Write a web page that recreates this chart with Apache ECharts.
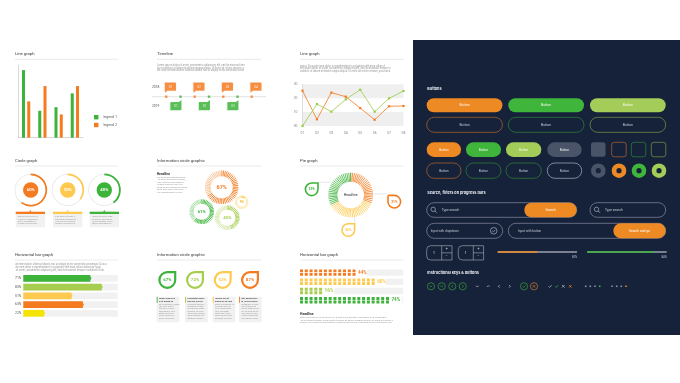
<!DOCTYPE html>
<html><head><meta charset="utf-8">
<script src="https://cdn.jsdelivr.net/npm/echarts@6/dist/echarts.min.js"></script>
<style>html,body{margin:0;padding:0;background:#fff}#c{width:680px;height:383px}</style>
</head><body><div id="c"></div>
<script>
// ---------- DATA ----------
const barCategories = ['A', 'B', 'C', 'D'];
const barLegend1 = [93, 37, 42, 61];
const barLegend2 = [50, 71, 32, 71];
const timelineYears = ['2018', '2019'];
const timeline2018 = ['01', '02', '03', '04'];
const timeline2019 = ['01', '02', '03'];
const lineCategories = ['01', '02', '03', '04', '05', '06', '07', '08'];
const lineYLabels = ['00', '10', '20', '30'];
const lineOrange = [25.4, 4.8, 24.0, 21.1, 12.9, 4.5, 14.2, 14.4];
const lineGreen = [0, 15.8, 10.3, 19.2, 26.1, 10.3, 19.9, 25.2];
const circleValues = [60, 35, 40];
const infoValues = [67, 61, 45, 9];
const pieValues = [31, 36, 33]; // orange, yellow, green
const hbarValues = [71, 83, 51, 63, 22];
const dropValues = [67, 72, 52, 87];
const pictValues = [44, 60, 16, 74];
const progressValues = [50, 84];

// ---------- STYLE ----------
const OR = '#f47b20', GR = '#3db33b', LG = '#a6cd4e', YE = '#fdc94f', BY = '#f5e400';
const PANEL = '#16213a', BOR = '#ee8a24', BGR = '#3fb53c', BLG = '#a4cc58', BGY = '#4a5468';
const FONT = 'Roboto, "Noto Sans", sans-serif';
const LOREM = 'Lorem ipsum dolor sit amet, consectetur adipiscing elit, sed do eiusmod tempor incididunt ut labore et dolore magna aliqua. Ut enim ad minim veniam, quis nostrud exercitation ullamco laboris nisi ut aliquip ex ea commodo consequat. Duis aute irure dolor in reprehenderit in voluptate velit esse cillum dolore eu fugiat nulla pariatur. Excepteur sint occaecat cupidatat non proident, sunt in culpa qui officia deserunt mollit anim id est laborum.';

const G = [];
function T(x, y, text, o) {
  o = o || {};
  const a = o.a || 'left', v = o.v || 'middle';
  G.push({type: 'text', x: x, y: y, z: o.z || 5, silent: true,
    style: {text: text, fill: o.c || '#444', font: (o.w || 'normal') + ' ' + (o.s || 4) + 'px ' + (o.f || FONT),
      textAlign: a, align: a, textVerticalAlign: v, verticalAlign: v}});
}
function R(x, y, w, h, o) {
  o = o || {};
  G.push({type: 'rect', z: o.z || 1, silent: true, shape: {x: x, y: y, width: w, height: h, r: o.r || 0},
    style: {fill: o.fill || 'none', stroke: o.stroke || 'none', lineWidth: o.lw || 0}});
}
function L(x1, y1, x2, y2, c, lw, z) {
  G.push({type: 'line', z: z || 2, silent: true, shape: {x1: x1, y1: y1, x2: x2, y2: y2}, style: {stroke: c, lineWidth: lw || 0.7}});
}
function C(cx, cy, r, o) {
  o = o || {};
  G.push({type: 'circle', z: o.z || 2, silent: true, shape: {cx: cx, cy: cy, r: r},
    style: {fill: o.fill || 'none', stroke: o.stroke || 'none', lineWidth: o.lw || 0}});
}
function PL(pts, c, lw, cx, cy) {
  G.push({type: 'polyline', z: 3, silent: true, shape: {points: pts.map(p => [p[0] + cx, p[1] + cy])},
    style: {stroke: c, lineWidth: lw || 0.6, fill: 'none'}});
}
function PG(pts, fill) {
  G.push({type: 'polygon', z: 2, silent: true, shape: {points: pts}, style: {fill: fill}});
}
let loremPos = 0;
function para(x, y, width, n, s, lh, c, w) {
  const per = Math.floor(width / (s * 0.5));
  for (let i = 0; i < n; i++) {
    let line = LOREM.substr(loremPos % 300, per);
    loremPos += per;
    T(x, y + i * lh, line, {s: s, c: c || '#9a9a9a', w: w});
  }
}
function drop(cx, cy, r, lw, color, tail, text, fs) {
  const rr = [r, r, r, r];
  if (tail === 'tr') rr[1] = 0; else rr[0] = 0;
  G.push({type: 'rect', z: 3, silent: true, shape: {x: cx - r, y: cy - r, width: 2 * r, height: 2 * r, r: rr},
    style: {fill: '#fff', stroke: color, lineWidth: lw}});
  T(cx, cy, text, {s: fs, c: color, w: 'bold', a: 'center', z: 4});
}

// ---------- LIGHT PANELS: titles ----------
const titles = [
  ['Line graph', 15, 54.3, 118], ['Timeline', 157, 54.3, 261], ['Line graph', 300, 54.3, 404],
  ['Circle graph', 15, 161, 118], ['Information circle graphic', 157, 161, 261], ['Pie graph', 300, 161, 404],
  ['Horizontal bar graph', 15, 255, 118], ['Information circle graphic', 157, 255, 261], ['Horizontal bar graph', 300, 255, 404]
];
titles.forEach(t => { T(t[1], t[2], t[0], {s: 4.2, c: '#3a3a3a'}); L(t[1], t[2] + 5, t[3], t[2] + 5, '#e4e4e4', 0.8); });

// paragraphs
para(157, 65, 98, 3, 2.6, 2.85);
para(300, 66, 102, 3, 2.6, 2.6);
para(15, 264.3, 103, 3, 2.6, 2.85);
T(156.7, 174.3, 'Headline', {s: 3.4, c: '#333', w: 'bold'});
para(156.7, 177.4, 32, 7, 2.4, 2.45);
T(300, 314.3, 'Headline', {s: 3.4, c: '#333', w: 'bold'});
para(300, 317.6, 103, 3, 2.5, 2.6);

// timeline year labels
T(152, 87.3, timelineYears[0], {s: 3.3, c: '#555'});
T(152, 106, timelineYears[1], {s: 3.3, c: '#555'});

// circle graph boxes
const circleColors = [OR, YE, GR];
const circleX = [30.7, 67.7, 104.3];
const boxX = [15.7, 53, 89.7];
boxX.forEach((x, i) => {
  R(x, 211.7, 29.3, 2.3, {fill: circleColors[i]});
  PG([[x + 14.65 - 1.3, 211.8], [x + 14.65 + 1.3, 211.8], [x + 14.65, 210]], circleColors[i]);
  R(x, 214, 29.3, 13.3, {fill: '#f1f1f1'});
  para(x + 2, 216.6, 24, 4, 2.2, 2.4, '#9a9a9a');
});

// info drops (bottom middle)
const dropColors = [GR, LG, YE, OR];
const dropX = [167.3, 195, 222.7, 250];
const dboxX = [156.7, 185, 212.7, 239];
dropX.forEach((x, i) => {
  drop(x, 280, 7.9, 2.2, dropColors[i], 'tr', dropValues[i] + '%', 4.4);
  R(dboxX[i], 296.7, 22.7, 25.6, {fill: '#f1f1f1'});
  R(dboxX[i], 296.7, 0.9, 6, {fill: dropColors[i], z: 2});
  para(dboxX[i] + 2.2, 298.8, 19, 2, 2.2, 2.4, '#444', 'bold');
  para(dboxX[i] + 2.2, 304, 19, 7, 2.2, 2.35, '#9a9a9a');
});

// pie graph callouts
const pieColors = [OR, YE, GR];
L(318.7, 182.2, 331, 182.2, '#dcdcdc', 0.7);
L(371.5, 193.9, 387.5, 193.9, '#dcdcdc', 0.7);
L(354.8, 215.5, 354.8, 223.5, '#dcdcdc', 0.7);
drop(311.7, 189.3, 6.3, 1.6, GR, 'tr', pieValues[2] + '%', 3.3);
drop(394.3, 201.7, 6.3, 1.6, OR, 'tl', pieValues[0] + '%', 3.3);
drop(348.3, 230, 6.3, 1.6, YE, 'tr', pieValues[1] + '%', 3.3);

// ---------- DARK PANEL ----------
R(413, 40, 267, 295, {fill: PANEL, z: 0});
const WT = '#e9ecf2', LT = '#c3c8d2';
T(427.3, 89.3, 'Buttons', {s: 3.8, c: WT, w: 'bold', f: 'Inter, Roboto, sans-serif'});
const bigX = [426.7, 508.3, 590], bigW = 75.7;
[BOR, BGR, BLG].forEach((c, i) => {
  R(bigX[i], 98.3, bigW, 14, {fill: c, r: 7});
  T(bigX[i] + bigW / 2, 105.3, 'Button', {s: 3.5, c: 'rgba(255,255,255,0.9)', a: 'center'});
  R(bigX[i], 117.3, bigW, 15, {stroke: ['#b7692d', '#2e8a37', '#7d9c45'][i], lw: 0.7, r: 7.5});
  T(bigX[i] + bigW / 2, 124.8, 'Button', {s: 3.5, c: LT, a: 'center'});
});
const smX = [426.7, 466, 506, 547.3], smW = [34.3, 35, 35.3, 34.4];
[BOR, BGR, BLG, BGY].forEach((c, i) => {
  R(smX[i], 142.3, smW[i], 14.7, {fill: c, r: 7.3});
  T(smX[i] + smW[i] / 2, 149.7, 'Button', {s: 3.2, c: 'rgba(255,255,255,0.9)', a: 'center'});
  R(smX[i], 163, smW[i], 15.3, {stroke: ['#b7692d', '#2e8a37', '#2e8a37', '#aeb4c0'][i], lw: 0.7, r: 7.6});
  T(smX[i] + smW[i] / 2, 170.7, 'Button', {s: 3.2, c: LT, a: 'center'});
});
const sqX = [591, 611.7, 631.3, 651.3];
R(sqX[0], 142.3, 14.5, 14.5, {fill: BGY, r: 2.5});
['#b7692d', '#2e8a37', '#7d9c45'].forEach((c, i) => R(sqX[i + 1], 142.3, 14.5, 14.5, {stroke: c, lw: 0.7, r: 2.5}));
const dnX = [598.3, 619, 639, 659];
[BGY, BOR, BGR, BLG].forEach((c, i) => { C(dnX[i], 170.7, 7.3, {fill: c}); C(dnX[i], 170.7, 2.6, {fill: PANEL, z: 3}); });

T(427.3, 193.3, 'Search, filters on progress bars', {s: 3.8, c: WT, w: 'bold', f: 'Inter, Roboto, sans-serif'});
function mag(cx, cy) { C(cx, cy, 2.2, {stroke: LT, lw: 0.6}); L(cx + 1.6, cy + 1.6, cx + 3.4, cy + 3.4, LT, 0.7, 3); }
R(426.7, 202.7, 150, 14.6, {stroke: '#9aa1b0', lw: 0.6, r: 7.3});
mag(433.2, 209.3);
T(441.7, 210, 'Type search', {s: 3.3, c: LT});
R(524.3, 202.7, 52.4, 14.6, {fill: BOR, r: 7.3, z: 2});
T(550.5, 210, 'Search', {s: 3.3, c: '#fff', a: 'center'});
R(590, 202.7, 75.7, 14.6, {stroke: '#9aa1b0', lw: 0.6, r: 7.3});
mag(596.5, 209.3);
T(605, 210, 'Type search', {s: 3.3, c: LT});
R(426.7, 223.3, 76, 15, {stroke: '#9aa1b0', lw: 0.6, r: 7.5});
T(430.7, 230.8, 'Input with dropdown', {s: 3.1, c: LT});
C(493.7, 230.8, 3.3, {stroke: LT, lw: 0.6});
PL([[-1.5, 0], [-0.4, 1.1], [1.5, -1]], LT, 0.6, 493.7, 230.8);
R(508.3, 223.3, 157.4, 15, {stroke: '#9aa1b0', lw: 0.6, r: 7.5});
T(518, 230.8, 'Input with button', {s: 3.1, c: LT});
R(613.3, 223.3, 52.4, 15, {fill: BOR, r: 7.5, z: 2});
T(639.5, 230.8, 'Search and go', {s: 3.3, c: '#fff', a: 'center'});
[426.7, 458.3].forEach(x => {
  R(x, 245.7, 25.3, 14.3, {stroke: '#aeb4c0', lw: 0.6, r: [4, 0, 0, 4]});
  L(x + 15, 245.7, x + 15, 260, '#aeb4c0', 0.6);
  L(x + 15, 252.85, x + 25.3, 252.85, '#aeb4c0', 0.6);
  T(x + 7.3, 252.85, '1', {s: 3.4, c: WT, a: 'center'});
  T(x + 20.1, 249.4, '+', {s: 3.4, c: WT, a: 'center'});
  T(x + 20.1, 256.4, '−', {s: 3.4, c: WT, a: 'center'});
});
T(577, 257.7, progressValues[0] + '%', {s: 2.8, c: LT, a: 'right'});
T(666.7, 257.7, progressValues[1] + '%', {s: 2.8, c: LT, a: 'right'});

T(427.3, 273.3, 'Instructional keys & buttons', {s: 3.8, c: WT, w: 'bold', f: 'Inter, Roboto, sans-serif'});
const IY = 286.3;
const chevD = [[-1.3, -0.6], [0, 0.7], [1.3, -0.6]], chevU = [[-1.3, 0.6], [0, -0.7], [1.3, 0.6]];
const chevL = [[0.6, -1.3], [-0.7, 0], [0.6, 1.3]], chevR = [[-0.6, -1.3], [0.7, 0], [-0.6, 1.3]];
const checkP = [[-1.5, 0], [-0.4, 1.1], [1.6, -1.1]];
[[431, chevD], [441.7, chevU], [452.3, chevL], [462.7, chevR]].forEach(p => {
  C(p[0], IY, 3.6, {stroke: BGR, lw: 0.6});
  PL(p[1], BGR, 0.6, p[0], IY);
});
[[477.3, chevD], [488.3, chevU], [499, chevL], [509.7, chevR]].forEach(p => PL(p[1], LT, 0.7, p[0], IY));
C(524, IY, 3.6, {stroke: BGR, lw: 0.6}); PL(checkP, BGR, 0.6, 524, IY);
C(534, IY, 3.6, {stroke: BOR, lw: 0.6});
PL([[-1.2, -1.2], [1.2, 1.2]], BOR, 0.6, 534, IY); PL([[-1.2, 1.2], [1.2, -1.2]], BOR, 0.6, 534, IY);
PL(checkP, LT, 0.7, 550, IY); PL(checkP, BGR, 0.7, 556.7, IY);
[[563.3, LT], [570.3, BOR]].forEach(p => { PL([[-1.3, -1.3], [1.3, 1.3]], p[1], 0.7, p[0], IY); PL([[-1.3, 1.3], [1.3, -1.3]], p[1], 0.7, p[0], IY); });
[[585.7, '#8a93a6'], [590.3, '#8a93a6'], [595, '#8a93a6'], [599.7, BGR], [612, '#8a93a6'], [616.7, '#8a93a6'], [621.3, '#8a93a6'], [626, BOR]]
  .forEach(p => R(p[0] - 0.8, IY - 0.8, 1.6, 1.6, {fill: p[1], z: 3}));

// ---------- SERIES HELPERS ----------
function circleSeries(i) {
  const c = [circleX[i], 190], v = circleValues[i], col = circleColors[i];
  const base = {type: 'pie', center: c, silent: true, startAngle: 90, clockwise: true, label: {show: false}, labelLine: {show: false}, emphasis: {disabled: true}, animation: false};
  return [
    Object.assign({}, base, {radius: [15.3, 16.0], data: [{value: 1, itemStyle: {color: '#e4e4e4'}}]}),
    Object.assign({}, base, {radius: [14.7, 16.5], data: [{value: v, itemStyle: {color: col}}, {value: 100 - v, itemStyle: {color: 'rgba(0,0,0,0)'}}]}),
    Object.assign({}, base, {radius: [0, 7.7], data: [{value: v, itemStyle: {color: col}}],
      label: {show: true, position: 'center', formatter: '{c}%', color: '#fff', fontSize: 4.2, fontWeight: 'bold'}})
  ];
}
function ring(center, radius, len, n, val, stops, detail, lw) {
  return {type: 'gauge', center: center, radius: radius, startAngle: 90, endAngle: -270, min: 0, max: 100, splitNumber: n,
    axisLine: {show: true, lineStyle: {width: 0, color: stops}},
    axisTick: {show: false}, splitLine: {show: true, length: len, distance: 0, lineStyle: {color: 'auto', width: lw || 0.9}},
    axisLabel: {show: false}, pointer: {show: false}, anchor: {show: false}, title: {show: false}, progress: {show: false},
    detail: Object.assign({show: true, offsetCenter: [0, 0], valueAnimation: false, formatter: '{value}%', fontWeight: 'bold'}, detail),
    data: [{value: val}], silent: true, animation: false};
}
const pieTotal = pieValues.reduce((a, b) => a + b, 0);
let acc = 0;
const pieStops = pieValues.map((v, i) => { acc += v; return [acc / pieTotal, pieColors[i]]; });

const infoCenters = [[221.7, 187.3], [201.7, 211.7], [227.3, 217.7], [241.7, 202.3]];
const infoR = [16.7, 12.3, 12.3, 6.7], infoLen = [5.6, 4.2, 4.2, 2.2], infoN = [56, 48, 48, 36], infoFs = [5.5, 4.3, 4.3, 3];
const infoCol = [OR, GR, LG, YE], infoLight = ['#f9bd8f', '#a3dba2', '#d6e9aa', '#fde6a8'];

const lineBase = {type: 'line', xAxisIndex: 2, yAxisIndex: 2, symbol: 'rect', symbolSize: 2.2, animation: false};
const pictMax = 88.4, pictGap = 13.5;
const pictColors = [OR, YE, LG, GR];
const hbarColors = [GR, LG, YE, OR, BY];

const series = [
  {name: 'legend 1', type: 'bar', xAxisIndex: 0, yAxisIndex: 0, data: barLegend1, barWidth: 3, barGap: '75%', itemStyle: {color: GR}},
  {name: 'legend 2', type: 'bar', xAxisIndex: 0, yAxisIndex: 0, data: barLegend2, barWidth: 3, barGap: '75%', itemStyle: {color: OR}},
  // timeline
  {name: 'tl-line', type: 'line', xAxisIndex: 1, yAxisIndex: 1, data: [[-1, 0], [7, 0]], symbol: 'none', lineStyle: {color: '#d6d6d6', width: 0.7}, silent: true},
  {name: 'tl-bubble18', type: 'scatter', xAxisIndex: 1, yAxisIndex: 1, z: 3,
    data: timeline2018.map((t, i) => [2 * i, 0]), symbol: 'path://M0,0H11V8H2.5L0,10Z', symbolSize: [11, 10], symbolOffset: [4.3, -9],
    itemStyle: {color: OR, shadowColor: 'rgba(244,123,32,0.35)', shadowOffsetX: -0.8, shadowOffsetY: -0.8},
    label: {show: true, position: 'inside', offset: [0, -1], formatter: p => timeline2018[p.dataIndex], color: '#fff', fontSize: 3.2}},
  {name: 'tl-bubble19', type: 'scatter', xAxisIndex: 1, yAxisIndex: 1, z: 3,
    data: timeline2019.map((t, i) => [2 * i + 1, 0]), symbol: 'path://M0,2H8.5L11,0V10H0Z', symbolSize: [11, 10], symbolOffset: [-4.5, 8.3],
    itemStyle: {color: GR, shadowColor: 'rgba(61,179,59,0.35)', shadowOffsetX: -0.8, shadowOffsetY: 0.8},
    label: {show: true, position: 'inside', offset: [0, 1], formatter: p => timeline2019[p.dataIndex], color: '#fff', fontSize: 3.2}},
  {name: 'tl-dot18', type: 'scatter', xAxisIndex: 1, yAxisIndex: 1, z: 4, data: timeline2018.map((t, i) => [2 * i, 0]), symbol: 'rect', symbolSize: 2.4, itemStyle: {color: OR}},
  {name: 'tl-dot19', type: 'scatter', xAxisIndex: 1, yAxisIndex: 1, z: 4, data: timeline2019.map((t, i) => [2 * i + 1, 0]), symbol: 'rect', symbolSize: 2.4, itemStyle: {color: GR}},
  // line chart
  Object.assign({name: 'line-orange', data: lineOrange, lineStyle: {color: OR, width: 0.8}, itemStyle: {color: OR}}, lineBase),
  Object.assign({name: 'line-green', data: lineGreen, lineStyle: {color: '#9ccc47', width: 0.8}, itemStyle: {color: '#9ccc47'}}, lineBase),
  // horizontal bars
  {name: 'hbar', type: 'bar', xAxisIndex: 3, yAxisIndex: 3, barWidth: 6.7, showBackground: true, backgroundStyle: {color: '#f1f1f1'},
    data: hbarValues.map((v, i) => ({value: v, itemStyle: {color: hbarColors[i]}}))},
  {name: 'hbar-tip', type: 'pictorialBar', xAxisIndex: 3, yAxisIndex: 3, symbol: 'path://M0,0L1,0.5L0,1Z', symbolSize: [2.4, 6.7],
    symbolPosition: 'end', symbolOffset: ['50%', 0], z: 3,
    data: hbarValues.map((v, i) => ({value: v, itemStyle: {color: hbarColors[i]}}))},
  // pictorial bars
  {name: 'pict-spacer', type: 'bar', stack: 'pg', xAxisIndex: 4, yAxisIndex: 4, barWidth: 6.4, silent: true,
    data: pictValues.map(v => v + pictGap), itemStyle: {color: 'rgba(0,0,0,0)'}},
  {name: 'pict-bg', type: 'bar', stack: 'pg', xAxisIndex: 4, yAxisIndex: 4, barWidth: 6.4, silent: true,
    data: pictValues.map(v => Math.max(0, pictMax - v - pictGap)), itemStyle: {color: '#f1f1f1'}},
  {name: 'pict', type: 'pictorialBar', xAxisIndex: 4, yAxisIndex: 4, z: 3,
    symbol: 'path://M0,0H10V10H0Z M0,12H10V22H0Z', symbolSize: [3, 6.4], symbolRepeat: true, symbolMargin: 0.9, symbolClip: false,
    data: pictValues.map((v, i) => ({value: v, itemStyle: {color: pictColors[i]},
      label: {show: true, position: 'right', distance: 2.5, formatter: '{c}%', color: pictColors[i], fontSize: 4.6, fontWeight: 'bold'}}))},
  // progress bars
  {name: 'prog1', type: 'bar', xAxisIndex: 5, yAxisIndex: 5, barWidth: 1.4, data: [progressValues[0]], itemStyle: {color: BOR}, showBackground: true, backgroundStyle: {color: '#9aa1b0'}},
  {name: 'prog2', type: 'bar', xAxisIndex: 6, yAxisIndex: 6, barWidth: 1.4, data: [progressValues[1]], itemStyle: {color: BGR}, showBackground: true, backgroundStyle: {color: '#9aa1b0'}}
];
circleValues.forEach((v, i) => series.push.apply(series, circleSeries(i)));
infoValues.forEach((v, i) => series.push(ring(infoCenters[i], infoR[i], infoLen[i], infoN[i], v,
  [[v / 100, infoCol[i]], [1, infoLight[i]]], {fontSize: infoFs[i], color: i === 3 ? '#f0b429' : infoCol[i]})));
series.push(ring([350.7, 195], 22.3, 9, 72, 0, pieStops, {formatter: () => 'Headline', fontSize: 3.6, color: '#333', fontWeight: 'normal'}, 0.8));

const hidden = {show: false};
const option = {
  animation: false,
  backgroundColor: '#ffffff',
  textStyle: {fontFamily: FONT},
  legend: {left: 94, top: 115, orient: 'vertical', data: ['legend 1', 'legend 2'], icon: 'rect', itemWidth: 4.4, itemHeight: 4.4,
    itemGap: 3.4, padding: 0, textStyle: {fontSize: 3.6, color: '#555'}, selectedMode: false},
  grid: [
    {left: 18, top: 65, width: 65, height: 72.7},
    {left: 152, top: 80, width: 114, height: 33.4},
    {left: 302.5, top: 84.3, width: 101, height: 41.7},
    {left: 23.3, top: 273.9, width: 94.4, height: 43.75},
    {left: 300, top: 268, width: 103.3, height: 36.8},
    {left: 497.7, top: 251.3, width: 79.3, height: 1.4},
    {left: 587.3, top: 251.3, width: 79.4, height: 1.4}
  ],
  xAxis: [
    {type: 'category', gridIndex: 0, data: barCategories, axisLine: {lineStyle: {color: '#cfcfcf', width: 0.8}}, axisTick: hidden, axisLabel: hidden},
    {type: 'value', gridIndex: 1, min: -1, max: 7, show: false},
    {type: 'category', gridIndex: 2, data: lineCategories, boundaryGap: false, axisLine: hidden, axisTick: hidden,
      axisLabel: {fontSize: 3.4, color: '#888', margin: 6}},
    {type: 'value', gridIndex: 3, min: 0, max: 100, show: false},
    {type: 'value', gridIndex: 4, min: 0, max: pictMax, show: false},
    {type: 'value', gridIndex: 5, min: 0, max: 100, show: false},
    {type: 'value', gridIndex: 6, min: 0, max: 100, show: false}
  ],
  yAxis: [
    {type: 'value', gridIndex: 0, min: 0, max: 100, axisLine: {show: true, lineStyle: {color: '#cfcfcf', width: 0.8}}, axisTick: hidden, axisLabel: hidden, splitLine: hidden},
    {type: 'value', gridIndex: 1, min: -1, max: 1, show: false},
    {type: 'value', gridIndex: 2, min: 0, max: 30, interval: 10, axisLine: {show: true, lineStyle: {color: '#d0d0d0', width: 0.7}}, axisTick: hidden,
      axisLabel: {fontSize: 3.4, color: '#888', margin: 5, formatter: v => lineYLabels[Math.round(v / 10)]}, splitLine: hidden,
      splitArea: {show: true, areaStyle: {color: ['#efefef', 'rgba(255,255,255,0)']}}},
    {type: 'category', gridIndex: 3, inverse: true, data: hbarValues.map(v => v + '%'), axisLine: hidden, axisTick: hidden,
      axisLabel: {align: 'left', margin: 8.3, fontSize: 3.4, color: '#555'}},
    {type: 'category', gridIndex: 4, inverse: true, data: ['r1', 'r2', 'r3', 'r4'], show: false},
    {type: 'category', gridIndex: 5, data: ['p'], show: false},
    {type: 'category', gridIndex: 6, data: ['p'], show: false}
  ],
  series: series,
  graphic: {elements: G}
};
const chart = echarts.init(document.getElementById('c'), null, {renderer: 'canvas'});
chart.setOption(option);
</script>
</body></html>
